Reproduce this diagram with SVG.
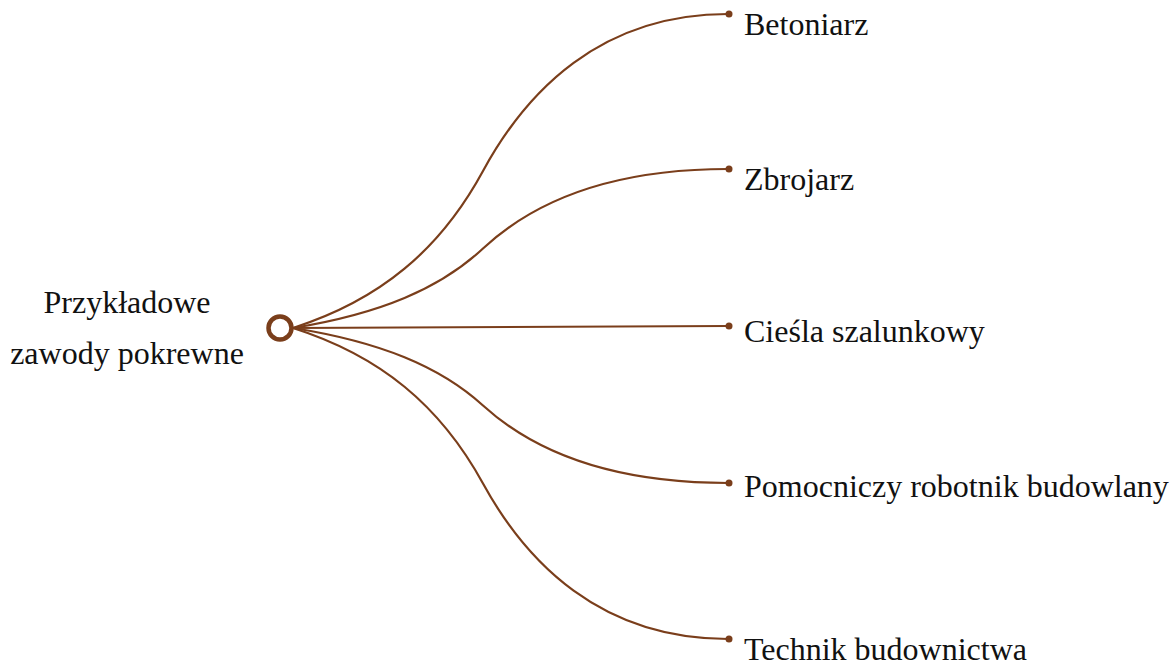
<svg xmlns="http://www.w3.org/2000/svg" width="1176" height="666" viewBox="0 0 1176 666">
<style>
.t{font-family:"Liberation Serif",serif;font-size:32px;fill:#111}
.c{fill:none;stroke:#7a3e1b;stroke-width:2.2}
.d{fill:#7a3e1b}
</style>
<rect width="1176" height="666" fill="#fff"/>
<g id="connectors">
<path class="c" d="M293,328 C380,300.1 440,250.1 483,171 C526,91.9 600,14 728,14"/>
<path class="c" d="M293,328 C380,313.9 440,288.6 483,248.5 C526,208.4 600,169 728,169"/>
<path class="c" d="M293,328 C450,327.5 600,326 728,326"/>
<path class="c" d="M293,328 C380,341.8 440,366.4 483,405.5 C526,444.6 600,483 728,483"/>
<path class="c" d="M293,328 C380,355.7 440,405.1 483,483.5 C526,561.9 600,639 728,639"/>
</g>
<g id="root">
<circle cx="280" cy="328" r="11.5" fill="#fff" stroke="#7a3e1b" stroke-width="4.5"/>
<text class="t" x="127" y="313" text-anchor="middle">Przykładowe</text>
<text class="t" x="127" y="364" text-anchor="middle">zawody pokrewne</text>
</g>
<g id="n1"><circle class="d" cx="729" cy="14" r="3.5"/><text class="t" x="744" y="35">Betoniarz</text></g>
<g id="n2"><circle class="d" cx="729" cy="169" r="3.5"/><text class="t" x="744" y="190">Zbrojarz</text></g>
<g id="n3"><circle class="d" cx="729" cy="326" r="3.5"/><text class="t" x="744" y="342">Cieśla szalunkowy</text></g>
<g id="n4"><circle class="d" cx="729" cy="483" r="3.5"/><text class="t" x="744" y="497">Pomocniczy robotnik budowlany</text></g>
<g id="n5"><circle class="d" cx="729" cy="639" r="3.5"/><text class="t" x="744" y="660">Technik budownictwa</text></g>
</svg>
